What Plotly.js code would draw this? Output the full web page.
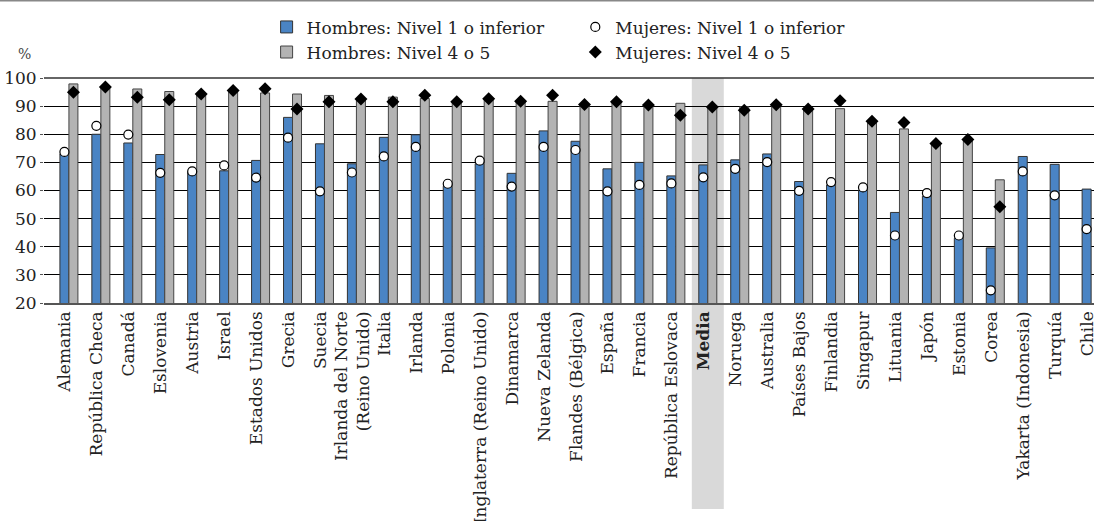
<!DOCTYPE html>
<html>
<head>
<meta charset="utf-8">
<script src="https://cdn.plot.ly/plotly-3.0.1.min.js"></script>
<style>html,body{margin:0;padding:0;background:#fff;}#chart{width:1094px;height:521px;}</style>
</head>
<body>
<div id="chart"></div>
<script>
const categories = ["Alemania","República Checa","Canadá","Eslovenia","Austria","Israel","Estados Unidos","Grecia","Suecia","Irlanda del Norte (Reino Unido)","Italia","Irlanda","Polonia","Inglaterra (Reino Unido)","Dinamarca","Nueva Zelanda","Flandes (Bélgica)","España","Francia","República Eslovaca","Media","Noruega","Australia","Países Bajos","Finlandia","Singapur","Lituania","Japón","Estonia","Corea","Yakarta (Indonesia)","Turquía","Chile"];
const tickLabels = ["Alemania","República Checa","Canadá","Eslovenia","Austria","Israel","Estados Unidos","Grecia","Suecia","Irlanda del Norte<br>(Reino Unido)","Italia","Irlanda","Polonia","Inglaterra (Reino Unido)","Dinamarca","Nueva Zelanda","Flandes (Bélgica)","España","Francia","República Eslovaca","<b>Media</b>","Noruega","Australia","Países Bajos","Finlandia","Singapur","Lituania","Japón","Estonia","Corea","Yakarta (Indonesia)","Turquía","Chile"];
const hombresN1 = [73, 80.0, 76.9, 72.8, 66.5, 67, 70.7, 86.0, 76.6, 69.5, 78.9, 79.8, 61.5, 69.5, 66.1, 81.2, 77.5, 67.7, 70.0, 65.2, 69.1, 70.9, 73.0, 63.2, 62, 60, 52.2, 58, 43, 39.6, 72.1, 69.3, 60.5];
const hombresN45 = [97.9, 96.5, 96.1, 95.2, 94.3, 95.5, 94.7, 94.3, 93.8, 92.5, 93.2, 92.7, 91.5, 92.5, 91.5, 91.7, 90.5, 91.3, 90.2, 91.0, 89.5, 89.8, 90.3, 88.8, 89.1, 84.0, 81.9, 76.5, 77.7, 63.8, null, null, null];
const mujeresN1 = [73.7, 83.0, 79.9, 66.3, 66.8, 68.9, 64.6, 78.8, 59.7, 66.4, 72.1, 75.5, 62.4, 70.6, 61.4, 75.5, 74.4, 59.7, 62.0, 62.5, 64.7, 67.7, 70.1, 59.9, 63.0, 61.1, 44.0, 59.1, 44.0, 24.5, 66.8, 58.3, 46.3];
const mujeresN45 = [94.9, 96.8, 93.2, 92.3, 94.3, 95.6, 96.2, 89.0, 91.6, 92.5, 91.6, 93.9, 91.6, 92.6, 91.7, 93.9, 90.6, 91.6, 90.4, 86.8, 89.7, 88.5, 90.5, 89.0, 91.9, 84.6, 84.2, 76.7, 78.1, 54.2, null, null, null];
const seriesNames = ["Hombres: Nivel 1 o inferior","Hombres: Nivel 4 o 5","Mujeres: Nivel 1 o inferior","Mujeres: Nivel 4 o 5"];
const yTicks = [20,30,40,50,60,70,80,90,100];

const FONT = "DejaVu Serif";
const TXT = "#222";
const mediaIdx = categories.indexOf("Media");

const traces = [
  {type:"bar", name:seriesNames[0], x:categories, y:hombresN1, offsetgroup:"a", legend:"legend",
   marker:{color:"#4a84c4", line:{color:"#333", width:1}}},
  {type:"bar", name:seriesNames[1], x:categories, y:hombresN45, offsetgroup:"b", legend:"legend",
   marker:{color:"#b3b3b3", line:{color:"#444", width:1}}},
  {type:"scatter", mode:"markers", name:seriesNames[2], x:categories, y:mujeresN1, offsetgroup:"a", legend:"legend2",
   marker:{symbol:"circle", size:9, color:"#fff", line:{color:"#000", width:1.2}}},
  {type:"scatter", mode:"markers", name:seriesNames[3], x:categories, y:mujeresN45, offsetgroup:"b", legend:"legend2",
   marker:{symbol:"diamond", size:10, color:"#000", line:{color:"#000", width:0}}}
];

const legendCommon = {orientation:"v", xanchor:"left", yanchor:"top", y:1.305, traceorder:"normal",
  font:{family:FONT, size:17, color:TXT}, bgcolor:"rgba(0,0,0,0)", tracegroupgap:0};

const layout = {
  width:1094, height:521,
  margin:{l:44, r:0, t:78, b:218, pad:0},
  paper_bgcolor:"#fff", plot_bgcolor:"rgba(0,0,0,0)",
  font:{family:FONT, size:17, color:TXT},
  barmode:"group", bargap:0.436, bargroupgap:0,
  scattermode:"group",
  showlegend:true,
  legend:Object.assign({}, legendCommon, {x:0.212}),
  legend2:Object.assign({}, legendCommon, {x:0.506}),
  xaxis:{type:"category", tickvals:categories, ticktext:tickLabels, tickangle:-90,
         range:[-0.78, 32.09], showgrid:false, showline:true, linecolor:"#555", linewidth:1.5,
         ticks:"", ticklabelshift:-4, tickfont:{family:FONT, size:17, color:TXT}, fixedrange:true},
  yaxis:{range:[20,100], tickvals:yTicks, showgrid:true, gridcolor:"#000", gridwidth:1,
         ticks:"outside", ticklen:3, tickcolor:"#555", showline:false, zeroline:false,
         tickfont:{family:FONT, size:17, color:TXT}, fixedrange:true},
  shapes:[
    {type:"rect", xref:"x", yref:"paper", x0:mediaIdx-0.5, x1:mediaIdx+0.5, y0:-0.915, y1:1,
     fillcolor:"#d9d9d9", line:{width:0}, layer:"below"},
    {type:"line", xref:"paper", yref:"paper", x0:0, x1:1, y0:1, y1:1, line:{color:"#333", width:1.5}},
    {type:"line", xref:"paper", yref:"paper", x0:-0.042, x1:1, y0:1.345, y1:1.345, line:{color:"#888", width:2}}
  ],
  annotations:[
    {xref:"paper", yref:"paper", x:-0.019, y:1.108, text:"%", showarrow:false,
     font:{family:FONT, size:14, color:"#444"}, xanchor:"center", yanchor:"middle"}
  ]
};

Plotly.newPlot("chart", traces, layout, {displayModeBar:false, staticPlot:true});
</script>
</body>
</html>
